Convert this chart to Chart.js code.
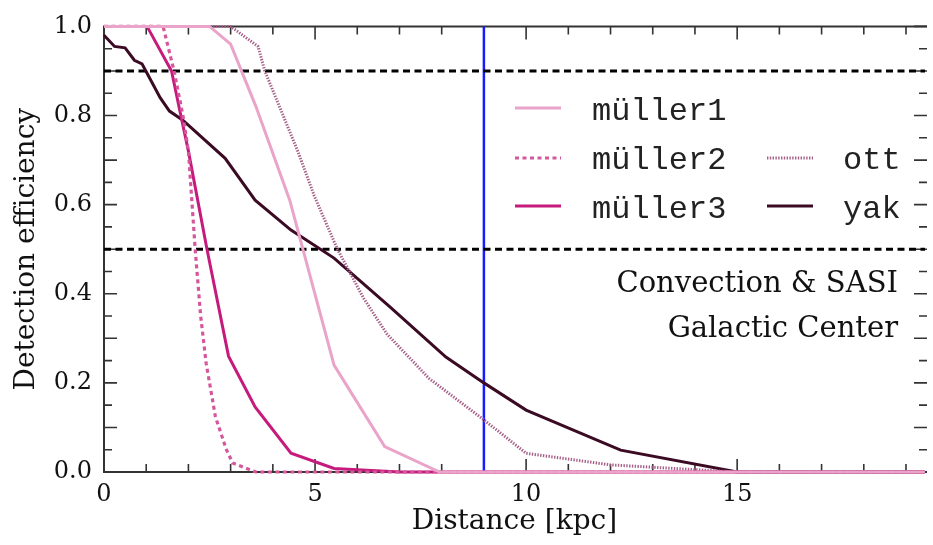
<!DOCTYPE html>
<html>
<head>
<meta charset="utf-8">
<script src="https://cdn.jsdelivr.net/npm/chart.js@4.4.0/dist/chart.umd.min.js"></script>
<style>
  html, body { margin: 0; padding: 0; background: #fff; }
  #wrap { width: 933px; height: 545px; }
</style>
</head>
<body>
<div id="wrap"><canvas id="chart" width="933" height="545"></canvas></div>
<script>
// Detection efficiency vs distance
const muller1Dist = [0, 2.5, 3.0, 3.6, 4.4, 5.45, 6.65, 7.95, 19.45];
const muller1Eff  = [1, 1, 0.96, 0.82, 0.61, 0.24, 0.057, 0, 0];

const muller2Dist = [0, 1.4, 1.66, 1.87, 2.0, 2.16, 2.29, 2.42, 2.64, 2.9, 3.05, 3.6, 19.45];
const muller2Eff  = [1, 1, 0.9, 0.8, 0.72, 0.5, 0.35, 0.244, 0.124, 0.05, 0.02, 0, 0];

const muller3Dist = [0, 1.02, 1.6, 1.82, 2.0, 2.44, 2.95, 3.58, 4.43, 5.45, 7.0, 19.45];
const muller3Eff  = [1, 1, 0.9, 0.8, 0.72, 0.5, 0.26, 0.146, 0.042, 0.008, 0, 0];

const ottDist = [0, 3.0, 3.65, 3.81, 4.59, 4.98, 5.53, 6.15, 6.7, 7.7, 9.0, 10.0, 12.0, 15.0, 19.45];
const ottEff  = [1, 1, 0.955, 0.9, 0.72, 0.62, 0.5, 0.39, 0.31, 0.21, 0.117, 0.042, 0.016, 0, 0];

const yakDist = [0, 0.25, 0.5, 0.72, 0.9, 1.02, 1.33, 1.55, 1.86, 2.87, 3.58, 4.43, 5.45, 6.78, 8.1, 9.0, 10.0, 12.24, 15.0, 19.45];
const yakEff  = [0.98, 0.955, 0.952, 0.924, 0.916, 0.895, 0.84, 0.81, 0.79, 0.704, 0.61, 0.543, 0.48, 0.37, 0.258, 0.2, 0.139, 0.049, 0, 0];

const thresholds = [0.9, 0.5];
const markerDistance = 9;
const xMax = 19.45;

const xTickLabels = [0, 5, 10, 15];
const yTickLabels = [0, 0.2, 0.4, 0.6, 0.8, 1.0];

const noteLines = ['Convection & SASI', 'Galactic Center'];

function pts(xs, ys) {
    return xs.map((x, i) => ({ x: x, y: ys[i] }));
}

const series = [
    { label: 'müller1', data: pts(muller1Dist, muller1Eff), color: '#eaa4c9', width: 3, dash: [] },
    { label: 'müller2', data: pts(muller2Dist, muller2Eff), color: '#d4579b', width: 3.2, dash: [4, 3.5] },
    { label: 'müller3', data: pts(muller3Dist, muller3Eff), color: '#c51b7d', width: 3, dash: [] },
    { label: 'ott',     data: pts(ottDist, ottEff),         color: '#a65f88', width: 3, dash: [1.4, 1.4] },
    { label: 'yak',     data: pts(yakDist, yakEff),         color: '#3b0a23', width: 3, dash: [] }
];

const datasets = series.map(s => ({
    label: s.label,
    data: s.data,
    borderColor: s.color,
    borderWidth: s.width,
    borderDash: s.dash,
    pointRadius: 0,
    tension: 0,
    fill: false,
    clip: 4
}));

// reference lines
thresholds.forEach(t => {
    datasets.push({
        label: 'thr' + t,
        data: [{ x: 0, y: t }, { x: xMax, y: t }],
        borderColor: '#000',
        borderWidth: 3,
        borderDash: [7, 4.5],
        pointRadius: 0,
        clip: 4
    });
});
datasets.push({
    label: 'marker',
    data: [{ x: markerDistance, y: 0 }, { x: markerDistance, y: 1 }],
    borderColor: '#1a1aff',
    borderWidth: 2.5,
    pointRadius: 0,
    clip: 4
});

// frame with inward ticks; the right spine falls just off the picture
const framePlugin = {
    id: 'frame',
    beforeDatasetsDraw(chart) {
        const { ctx, chartArea: a, scales: { x, y } } = chart;
        const right = a.right + 2;
        ctx.save();
        ctx.strokeStyle = '#333';
        ctx.lineWidth = 1.6;
        for (let v = 0; v <= Math.floor(xMax); v++) {
            const px = x.getPixelForValue(v);
            const len = v % 5 === 0 ? 13 : 8;
            ctx.beginPath();
            ctx.moveTo(px, a.bottom); ctx.lineTo(px, a.bottom - len);
            ctx.moveTo(px, a.top); ctx.lineTo(px, a.top + len);
            ctx.stroke();
        }
        for (let i = 0; i <= 20; i++) {
            const py = y.getPixelForValue(i * 0.05);
            const len = i % 2 === 0 ? 13 : 8;
            ctx.beginPath();
            ctx.moveTo(a.left, py); ctx.lineTo(a.left + len, py);
            ctx.moveTo(right, py); ctx.lineTo(right - len, py);
            ctx.stroke();
        }
        ctx.lineWidth = 2;
        ctx.beginPath();
        ctx.moveTo(right, a.top);
        ctx.lineTo(a.left, a.top);
        ctx.lineTo(a.left, a.bottom);
        ctx.lineTo(right, a.bottom);
        ctx.stroke();
        ctx.restore();
    }
};

// two-column legend and the note text
const legendPlugin = {
    id: 'legendBox',
    afterDraw(chart) {
        const ctx = chart.ctx;
        const slots = [
            { s: 0, lx: 515, tx: 592, ly: 108, ty: 120 },
            { s: 1, lx: 515, tx: 592, ly: 158, ty: 169 },
            { s: 2, lx: 515, tx: 592, ly: 206, ty: 218 },
            { s: 3, lx: 767, tx: 843, ly: 158, ty: 169 },
            { s: 4, lx: 767, tx: 843, ly: 206, ty: 218 }
        ];
        ctx.save();
        slots.forEach(p => {
            const s = series[p.s];
            ctx.strokeStyle = s.color;
            ctx.lineWidth = s.width;
            ctx.setLineDash(s.dash);
            ctx.beginPath();
            ctx.moveTo(p.lx, p.ly);
            ctx.lineTo(p.lx + 46, p.ly);
            ctx.stroke();
            ctx.setLineDash([]);
            ctx.fillStyle = '#222';
            ctx.font = '32px "Liberation Mono"';
            ctx.textAlign = 'left';
            ctx.textBaseline = 'alphabetic';
            ctx.fillText(s.label, p.tx, p.ty);
        });
        ctx.font = '29px "DejaVu Serif"';
        ctx.textAlign = 'right';
        ctx.fillStyle = '#111';
        ctx.fillText(noteLines[0], 898, 292);
        ctx.fillText(noteLines[1], 898, 337);
        ctx.restore();
    }
};

new Chart(document.getElementById('chart'), {
    type: 'line',
    data: { datasets: datasets },
    plugins: [framePlugin, legendPlugin],
    options: {
        responsive: false,
        animation: false,
        layout: { padding: { top: 26, right: 0, left: 0, bottom: 0 } },
        plugins: { legend: { display: false }, tooltip: { enabled: false } },
        scales: {
            x: {
                type: 'linear',
                min: 0,
                max: xMax,
                grid: { display: false, drawTicks: false },
                border: { display: false },
                afterFit(scale) { scale.height = 73; },
                ticks: {
                    stepSize: 1,
                    autoSkip: false,
                    maxRotation: 0,
                    padding: 8,
                    color: '#111',
                    font: { family: 'DejaVu Serif', size: 24 },
                    callback: v => xTickLabels.includes(v) ? String(v) : ''
                },
                title: {
                    display: true,
                    text: 'Distance [kpc]',
                    color: '#111',
                    font: { family: 'DejaVu Serif', size: 28 },
                    padding: { top: 0, bottom: 6 }
                }
            },
            y: {
                min: 0,
                max: 1,
                grid: { display: false, drawTicks: false },
                border: { display: false },
                afterFit(scale) { scale.width = 104; },
                ticks: {
                    stepSize: 0.05,
                    autoSkip: false,
                    padding: 12,
                    color: '#111',
                    font: { family: 'DejaVu Serif', size: 24 },
                    callback: v => {
                        const r = Math.round(v * 100) / 100;
                        return yTickLabels.includes(r) ? r.toFixed(1) : '';
                    }
                },
                title: {
                    display: true,
                    text: 'Detection efficiency',
                    color: '#111',
                    font: { family: 'DejaVu Serif', size: 28 },
                    padding: { top: 10, bottom: 0 }
                }
            }
        }
    }
});
</script>
</body>
</html>
